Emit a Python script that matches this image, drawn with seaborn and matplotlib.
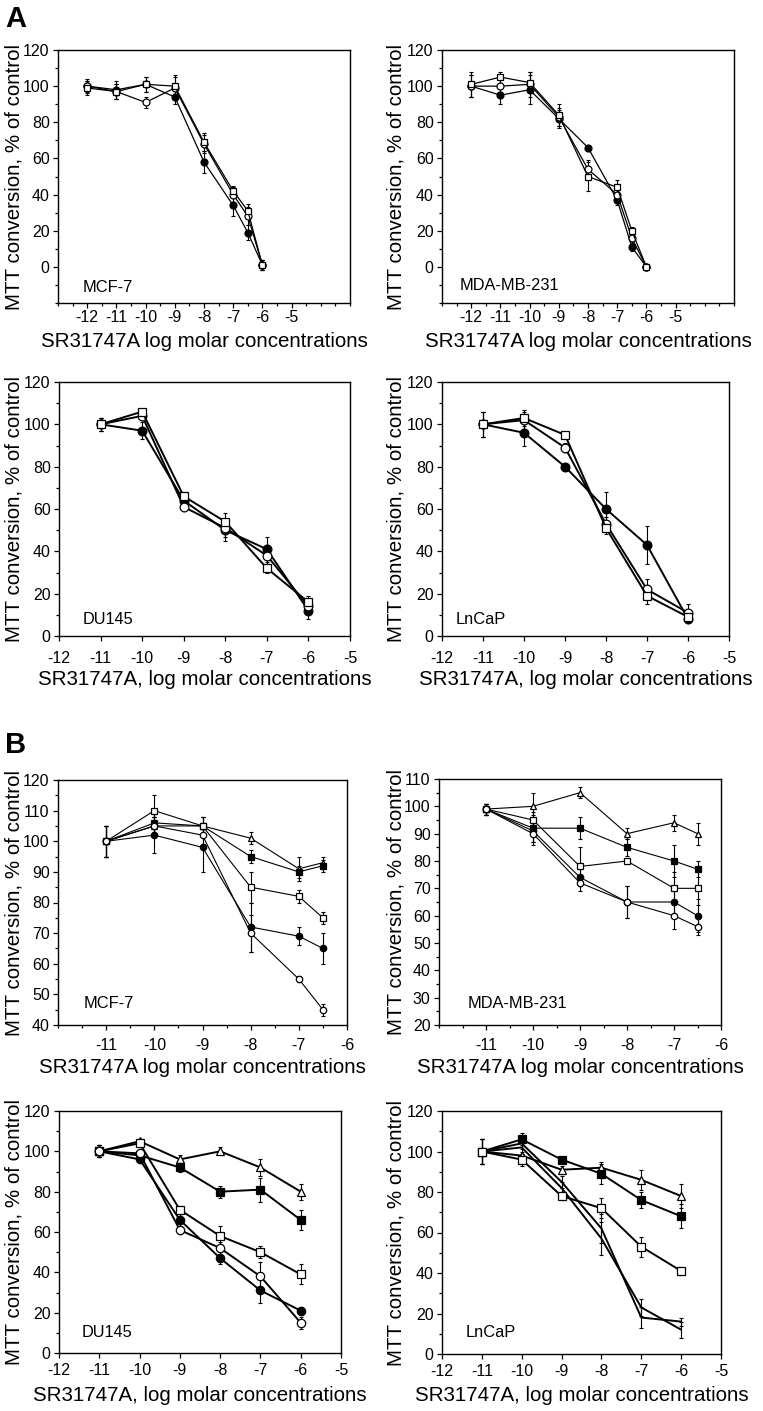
import numpy as np
import pandas as pd
import matplotlib
matplotlib.use('Agg')
import matplotlib.pyplot as plt
import matplotlib.transforms as mtransforms
import seaborn as sns

# ---- panel A data (x = log molar concentration) ----
a_top_x = [-12, -11, -10, -9, -8, -7, -6.5, -6]
a_bot_x = [-11, -10, -9, -8, -7, -6]

a_mcf7_fc = [100, 98, 101, 94, 58, 34, 19, 1]
a_mcf7_fc_err = [3, 5, 4, 4, 6, 6, 4, 3]
a_mcf7_oc = [100, 97, 91, 99, 68, 40, 28, 1]
a_mcf7_oc_err = [4, 4, 3, 6, 5, 4, 5, 3]
a_mcf7_os = [99, 97, 101, 100, 69, 42, 31, 1]
a_mcf7_os_err = [4, 4, 4, 6, 5, 3, 4, 3]

a_mda_os = [101, 105, 102, 84, 50, 44, 20, 0]
a_mda_os_err = [7, 3, 6, 6, 8, 4, 2, 1]
a_mda_oc = [100, 100, 101, 83, 54, 40, 16, 0]
a_mda_oc_err = [6, 5, 7, 5, 5, 4, 3, 1]
a_mda_fc = [100, 95, 98, 82, 66, 37, 11, 0]
a_mda_fc_err = [6, 5, 8, 5, 1, 3, 2, 1]

a_du_fc = [100, 97, 64, 50, 41, 12]
a_du_fc_err = [3, 4, 3, 5, 6, 4]
a_du_oc = [100, 104, 61, 51, 38, 14]
a_du_oc_err = [3, 2, 2, 4, 5, 3]
a_du_os = [100, 106, 66, 54, 32, 16]
a_du_os_err = [3, 1, 2, 4, 2, 3]

a_ln_os = [100, 103, 95, 51, 19, 9]
a_ln_os_err = [6, 4, 1, 3, 4, 3]
a_ln_oc = [100, 102, 89, 53, 22, 11]
a_ln_oc_err = [6, 4, 2, 3, 5, 4]
a_ln_fc = [100, 96, 80, 60, 43, 8]
a_ln_fc_err = [6, 6, 1, 8, 9, 2]

# ---- panel B data ----
b_top_x = [-11, -10, -9, -8, -7, -6.5]
b_bot_x = [-11, -10, -9, -8, -7, -6]

b_mcf7_ot = [100, 105, 105, 101, 91, 93]
b_mcf7_ot_err = [5, 3, 3, 2, 4, 2]
b_mcf7_fs = [100, 106, 105, 95, 90, 92]
b_mcf7_fs_err = [5, 3, 3, 2, 2, 2]
b_mcf7_os = [100, 110, 105, 85, 82, 75]
b_mcf7_os_err = [5, 5, 3, 5, 2, 2]
b_mcf7_fc = [100, 102, 98, 72, 69, 65]
b_mcf7_fc_err = [5, 6, 8, 8, 3, 5]
b_mcf7_oc = [100, 105, 102, 70, 55, 45]
b_mcf7_oc_err = [5, 3, 3, 6, 1, 2]

b_mda_ot = [99, 100, 105, 90, 94, 90]
b_mda_ot_err = [2, 5, 2, 2, 3, 4]
b_mda_fs = [99, 92, 92, 85, 80, 77]
b_mda_fs_err = [2, 5, 4, 3, 6, 3]
b_mda_os = [99, 95, 78, 80, 70, 70]
b_mda_os_err = [2, 3, 7, 1, 6, 6]
b_mda_fc = [99, 91, 74, 65, 65, 60]
b_mda_fc_err = [2, 4, 3, 6, 6, 6]
b_mda_oc = [99, 90, 72, 65, 60, 56]
b_mda_oc_err = [2, 4, 3, 6, 5, 3]

b_du_ot = [100, 105, 96, 100, 92, 80]
b_du_ot_err = [3, 1, 2, 2, 4, 4]
b_du_fs = [100, 98, 92, 80, 81, 66]
b_du_fs_err = [3, 2, 2, 3, 6, 5]
b_du_os = [100, 104, 71, 58, 50, 39]
b_du_os_err = [3, 1, 2, 5, 3, 5]
b_du_fc = [100, 96, 66, 47, 31, 21]
b_du_fc_err = [3, 2, 3, 3, 6, 2]
b_du_oc = [100, 99, 61, 52, 38, 15]
b_du_oc_err = [3, 2, 2, 3, 7, 3]

b_ln_fs = [100, 106, 96, 89, 76, 68]
b_ln_fs_err = [6, 3, 1, 5, 4, 6]
b_ln_ot = [100, 98, 91, 92, 86, 78]
b_ln_ot_err = [6, 2, 2, 3, 5, 6]
b_ln_os = [100, 96, 78, 72, 53, 41]
b_ln_os_err = [6, 3, 2, 5, 5, 2]
b_ln_l1 = [100, 104, 85, 62, 18, 16]
b_ln_l1_err = [6, 3, 3, 7, 5, 2]
b_ln_l2 = [100, 102, 82, 57, 23, 12]
b_ln_l2_err = [6, 3, 3, 8, 4, 4]

ylab = 'MTT conversion, % of control'
xlab_a_top = 'SR31747A log molar concentrations'
xlab_comma = 'SR31747A, log molar concentrations'

# marker styles: (marker, facecolor)
FC = ('o', 'black')
OC = ('o', 'white')
OS = ('s', 'white')
FS = ('s', 'black')
OT = ('^', 'white')
NONE = ('', 'black')

sns.set_theme(style='ticks')
plt.rcParams['font.family'] = ['Liberation Sans', 'DejaVu Sans']
plt.rcParams['axes.linewidth'] = 1.0
plt.rcParams['text.color'] = 'black'
plt.rcParams['axes.labelcolor'] = 'black'
plt.rcParams['xtick.color'] = 'black'
plt.rcParams['ytick.color'] = 'black'
plt.rcParams['axes.edgecolor'] = 'black'

W, H = 763, 1411
fig = plt.figure(figsize=(W / 100, H / 100), dpi=100)


def place(l, t, r, b):
    return fig.add_axes([l / W, 1 - b / H, (r - l) / W, (b - t) / H])


def draw(ax, x, series, lw, ms):
    for y, err, (mk, face) in series:
        ax.errorbar(x, y, yerr=err, fmt='none', ecolor='black', elinewidth=0.8,
                    capsize=1.6, capthick=0.8, zorder=2)
    for y, err, (mk, face) in series:
        df = pd.DataFrame({'x': x, 'y': y})
        sns.lineplot(data=df, x='x', y='y', ax=ax, color='black', linewidth=lw,
                     marker=mk if mk else None, markersize=ms, markerfacecolor=face,
                     markeredgecolor='black', markeredgewidth=0.9, sort=False,
                     errorbar=None, zorder=3)


def style(ax, xlim, xmaj, xmin, ylim, ymaj, ymin, xpad, cell, cellpos,
          xlabel, xlab_top, ylab_x):
    ax.set_xlim(*xlim)
    ax.set_ylim(*ylim)
    ax.set_xticks(xmaj)
    ax.set_xticklabels([f'{v:g}' for v in xmaj])
    if xmin is not None:
        ax.set_xticks(xmin, minor=True)
    ax.set_yticks(ymaj)
    ax.set_yticks(ymin, minor=True)
    ax.tick_params(axis='both', which='both', direction='out', color='black',
                   labelcolor='black', labelsize=11.5, width=0.9)
    ax.tick_params(axis='both', which='major', length=3.5)
    ax.tick_params(axis='both', which='minor', length=2.5)
    ax.tick_params(axis='x', pad=xpad)
    ax.tick_params(axis='y', pad=2.5)
    for s in ax.spines.values():
        s.set_visible(True)
        s.set_color('black')
    ax.set_xlabel(xlabel, fontsize=14.8, color='black')
    ax.set_ylabel(ylab, fontsize=14.8, color='black')
    ax.xaxis.set_label_coords(0.5, 1 - xlab_top / H,
                              transform=mtransforms.blended_transform_factory(ax.transAxes, fig.transFigure))
    ax.yaxis.set_label_coords(ylab_x / W, 0.5,
                              transform=mtransforms.blended_transform_factory(fig.transFigure, ax.transAxes))
    ax.xaxis.label.set_va('top')
    ax.text(cellpos[0], cellpos[1], cell, transform=ax.transAxes, fontsize=11.8,
            va='baseline', ha='left', color='black')


# ---- A, top row ----
ax = place(58, 50, 350, 303)
draw(ax, a_top_x, [(a_mcf7_fc, a_mcf7_fc_err, FC), (a_mcf7_oc, a_mcf7_oc_err, OC),
                   (a_mcf7_os, a_mcf7_os_err, OS)], 0.9, 5)
style(ax, (-13, -3), list(range(-12, -4)), np.arange(-13, -2.9, 0.5), (-20, 120),
      range(0, 121, 20), range(-20, 121, 10), 1.5, 'MCF-7', (0.086, 0.043),
      xlab_a_top, 332, 24)

ax = place(442, 50, 734, 303)
draw(ax, a_top_x, [(a_mda_fc, a_mda_fc_err, FC), (a_mda_oc, a_mda_oc_err, OC),
                   (a_mda_os, a_mda_os_err, OS)], 0.9, 5)
style(ax, (-13, -3), list(range(-12, -4)), np.arange(-13, -2.9, 0.5), (-20, 120),
      range(0, 121, 20), range(-20, 121, 10), 1.5, 'MDA-MB-231', (0.062, 0.051),
      xlab_a_top, 332, 406)

# ---- A, bottom row ----
ax = place(59, 382, 350, 636)
draw(ax, a_bot_x, [(a_du_fc, a_du_fc_err, FC), (a_du_oc, a_du_oc_err, OC),
                   (a_du_os, a_du_os_err, OS)], 1.4, 6.3)
style(ax, (-12, -5), list(range(-12, -4)), None, (0, 120),
      range(0, 121, 20), range(0, 121, 10), 7, 'DU145', (0.082, 0.047),
      xlab_comma, 670, 24)

ax = place(442, 382, 729, 636)
draw(ax, a_bot_x, [(a_ln_fc, a_ln_fc_err, FC), (a_ln_oc, a_ln_oc_err, OC),
                   (a_ln_os, a_ln_os_err, OS)], 1.4, 6.3)
style(ax, (-12, -5), list(range(-12, -4)), None, (0, 120),
      range(0, 121, 20), range(0, 121, 10), 7, 'LnCaP', (0.049, 0.047),
      xlab_comma, 670, 406)

# ---- B, top row ----
ax = place(58, 780, 347, 1025)
draw(ax, b_top_x, [(b_mcf7_ot, b_mcf7_ot_err, OT), (b_mcf7_fs, b_mcf7_fs_err, FS),
                   (b_mcf7_os, b_mcf7_os_err, OS), (b_mcf7_fc, b_mcf7_fc_err, FC),
                   (b_mcf7_oc, b_mcf7_oc_err, OC)], 0.8, 4.6)
style(ax, (-12, -6), list(range(-11, -5)), np.arange(-12, -5.9, 0.5), (40, 120),
      range(40, 121, 10), range(40, 121, 5), 6, 'MCF-7', (0.087, 0.07),
      xlab_a_top, 1058, 24)

ax = place(439, 779, 721, 1025)
draw(ax, b_top_x, [(b_mda_ot, b_mda_ot_err, OT), (b_mda_fs, b_mda_fs_err, FS),
                   (b_mda_os, b_mda_os_err, OS), (b_mda_fc, b_mda_fc_err, FC),
                   (b_mda_oc, b_mda_oc_err, OC)], 0.8, 4.6)
style(ax, (-12, -6), list(range(-11, -5)), np.arange(-12, -5.9, 0.5), (20, 110),
      range(20, 111, 10), range(20, 111, 5), 6, 'MDA-MB-231', (0.1, 0.07),
      xlab_a_top, 1058, 405)

# ---- B, bottom row ----
ax = place(59, 1111, 341, 1353)
draw(ax, b_bot_x, [(b_du_ot, b_du_ot_err, OT), (b_du_fs, b_du_fs_err, FS),
                   (b_du_os, b_du_os_err, OS), (b_du_fc, b_du_fc_err, FC),
                   (b_du_oc, b_du_oc_err, OC)], 1.4, 6)
style(ax, (-12, -5), list(range(-12, -4)), None, (0, 120),
      range(0, 121, 20), range(0, 121, 10), 4, 'DU145', (0.08, 0.066),
      xlab_comma, 1386, 24)

ax = place(442, 1111, 721, 1354)
draw(ax, b_bot_x, [(b_ln_l1, b_ln_l1_err, NONE), (b_ln_l2, b_ln_l2_err, NONE),
                   (b_ln_ot, b_ln_ot_err, OT), (b_ln_fs, b_ln_fs_err, FS),
                   (b_ln_os, b_ln_os_err, OS)], 1.4, 6)
style(ax, (-12, -5), list(range(-12, -4)), None, (0, 120),
      range(0, 121, 20), range(0, 121, 10), 4, 'LnCaP', (0.086, 0.07),
      xlab_comma, 1386, 405)

fig.text(5 / W, 1 - 27 / H, 'A', fontsize=21, fontweight='bold', va='baseline')
fig.text(5 / W, 1 - 753 / H, 'B', fontsize=21, fontweight='bold', va='baseline')

fig.savefig('out.png', dpi=100)
